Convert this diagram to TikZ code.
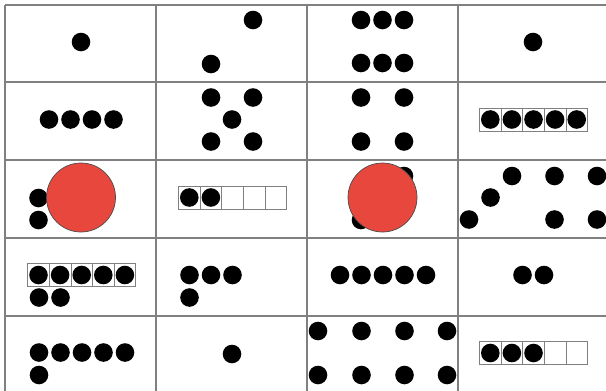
\documentclass[tikz,border=0pt]{standalone}
\usepackage{tikz}
\definecolor{gridline}{HTML}{808080}
\definecolor{counter}{HTML}{E8473D}
\newcommand{\counterdot}[2]{\fill[black] (#1,#2) circle[radius=9.3pt];}
% five-frame: left x, centre y, number of filled boxes
\newcommand{\fiveframe}[3]{%
  \foreach \k in {0,...,4}{\draw[framebox] ({#1+21.6*\k},{#2-11.5}) rectangle ++(21.6,23);}
  \foreach \k in {1,...,#3}{\counterdot{#1+21.6*\k-10.8}{#2}}}

\begin{document}
\begin{tikzpicture}[x=1pt,y=-1pt,
  cellline/.style={draw=gridline,line width=1.3pt},
  framebox/.style={draw=gridline,line width=0.8pt},
  cover/.style={fill=counter,draw=black!70,line width=0.7pt}]
\useasboundingbox (0,0) rectangle (606,391);
\fill[white] (0,0) rectangle (606,391);
% grid
\foreach \gx in {5,156,307,458} {\draw[cellline] (\gx,5) -- (\gx,391);}
\foreach \gy in {5,82,160,238,316} {\draw[cellline] (5,\gy) -- (606,\gy);}
% row 1
\counterdot{81}{42}
\foreach \x/\y in {211/64,253/20} {\counterdot{\x}{\y}}
\foreach \x in {361,382.5,404} {\counterdot{\x}{20}\counterdot{\x}{63}}
\counterdot{533}{42}
% row 2
\foreach \x in {49,70.5,92,113.5} {\counterdot{\x}{119.5}}
\foreach \x/\y in {211/97.5,253/97.5,232/119.5,211/141.5,253/141.5} {\counterdot{\x}{\y}}
\foreach \x/\y in {361/97.5,404/97.5,361/141.5,404/141.5} {\counterdot{\x}{\y}}
\fiveframe{479.5}{119.5}{5}
% row 3
\foreach \y in {198,220} {\counterdot{38.5}{\y}}
\draw[cover] (81,197.5) circle[radius=34.5pt];
\fiveframe{178.5}{197.5}{2}
\foreach \x/\y in {404/176,361/220} {\counterdot{\x}{\y}}
\draw[cover] (382.5,197.5) circle[radius=34.5pt];
\foreach \x/\y in {469/219.5,490.5/197.5,512/176,554.5/176,597/176,554.5/219.5,597/219.5} {\counterdot{\x}{\y}}
% row 4
\fiveframe{27.7}{275}{5}
\foreach \x in {39,60.5} {\counterdot{\x}{297.5}}
\foreach \x/\y in {189.5/275,211/275,232.5/275,189.5/297.5} {\counterdot{\x}{\y}}
\foreach \x in {340,361.5,383,404.5,426} {\counterdot{\x}{275}}
\foreach \x in {522.5,544} {\counterdot{\x}{275}}
% row 5
\foreach \x in {39,60.5,82,103.5,125} {\counterdot{\x}{352.5}}
\counterdot{39}{375}
\counterdot{232}{354}
\foreach \x in {318,361.5,404.5,447} {\counterdot{\x}{331}\counterdot{\x}{375}}
\fiveframe{479.5}{353}{3}
\end{tikzpicture}
\end{document}
